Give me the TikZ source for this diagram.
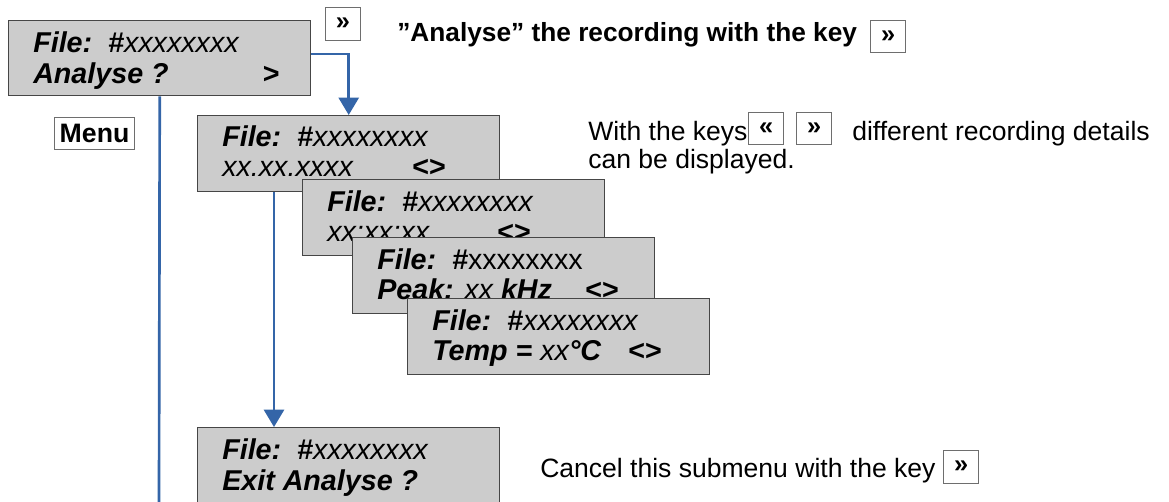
\documentclass[tikz,border=0pt]{standalone}
\usepackage{fontspec}
\setmainfont{Liberation Sans}
\usetikzlibrary{arrows.meta,calc}
\definecolor{lcdgray}{RGB}{204,204,204}
\definecolor{lcdedge}{RGB}{70,70,70}
\definecolor{flow}{RGB}{52,101,168}
\definecolor{keyedge}{RGB}{110,110,110}
\newcommand\lcdfont{\fontsize{21.5}{26}\selectfont}
\newcommand\lcdbi{\bfseries\itshape}

\begin{document}
\begin{tikzpicture}[x=0.75pt,y=-0.75pt,
  lcd/.style={draw=lcdedge,line width=1.1pt,fill=lcdgray,anchor=north west,
    minimum width=226.5pt,minimum height=57pt,inner sep=0pt},
  txt/.style={anchor=base west,inner sep=0pt,font=\lcdfont},
  keybox/.style={draw=keyedge,line width=0.8pt,fill=white,inner sep=0pt,anchor=north west,
    font=\fontsize{19}{19}\selectfont\bfseries},
  note/.style={anchor=base west,inner sep=0pt,font=\fontsize{19.9}{22}\selectfont},
  flowline/.style={draw=flow,line width=2pt},
  flowarrow/.style={flowline,-{Triangle[width=15pt,length=13pt]}}
]
\useasboundingbox (0,0) rectangle (1169,502);

% main menu entry
\node[lcd,minimum height=56.25pt] (a) at (8,20) {};
\node[txt] (a1) at ($(a.north west)+(25,33)$) {\lcdbi File:\ \ \#\mdseries xxxxxxxx};
\node[txt] (a2) at ($(a.north west)+(25,64)$) {\lcdbi Analyse ?};
\node[txt] (a3) at ($(a.north west)+(254,64)$) {\lcdbi >};

% keys
\node[keybox,minimum width=26.25pt,minimum height=24.75pt] (kstart) at (325,7) {»};
\node[keybox,minimum width=60pt,minimum height=24pt,
  font=\fontsize{20}{20}\selectfont\bfseries] (menu) at (54,117) {Menu};

% flow connectors
\coordinate (down) at (159,505);
\draw[flowline] (a.south) -- (down);

% analysis screens
\node[lcd] (b) at (197,115) {};
\node[txt] (b1) at ($(b.north west)+(25,32)$) {\lcdbi File:\ \ \#\mdseries xxxxxxxx};
\node[txt] (b2) at ($(b.north west)+(25,62)$) {\itshape xx.xx.xxxx};
\node[txt] (b3) at ($(b.north west)+(215,62)$) {\bfseries <>};

\coordinate (exittop) at (274,427);
\draw[flowarrow] ($(a.north east)+(0,34)$) -| (b.north);
\draw[flowarrow] (b.south -| exittop) -- (exittop);

\node[lcd] (c) at (302,179) {};
\node[txt] (c1) at ($(c.north west)+(25,32)$) {\lcdbi File:\ \ \#\mdseries xxxxxxxx};
\node[txt] (c2) at ($(c.north west)+(25,62)$) {\itshape xx:xx:xx};
\node[txt] (c3) at ($(c.north west)+(195,62)$) {\bfseries <>};

\node[lcd] (d) at (352,237) {};
\node[txt] (d1) at ($(d.north west)+(25,32)$) {\lcdbi File:\ \ \#\mdseries\upshape xxxxxxxx};
\node[txt] (d2) at ($(d.north west)+(25,62)$) {{\lcdbi Peak:} {\itshape xx} {\lcdbi kHz}};
\node[txt] (d3) at ($(d.north west)+(233,62)$) {\bfseries <>};

\node[lcd] (e) at (407,298) {};
\node[txt] (e1) at ($(e.north west)+(25,32)$) {\lcdbi File:\ \ \#\mdseries xxxxxxxx};
\node[txt] (e2) at ($(e.north west)+(25,62)$) {{\lcdbi Temp =} {\itshape xx}{\lcdbi °C}};
\node[txt] (e3) at ($(e.north west)+(221,62)$) {\bfseries <>};

\node[lcd,minimum height=67.5pt] (f) at (197,427) {};
\node[txt] (f1) at ($(f.north west)+(25,32)$) {\lcdbi File:\ \ \#\mdseries xxxxxxxx};
\node[txt] (f2) at ($(f.north west)+(25,63)$) {\lcdbi Exit Analyse ?};

% explanations
\node[note,font=\fontsize{19.7}{22}\selectfont\bfseries] (t1) at (397,42)
  {”Analyse” the recording with the key};
\node[keybox,minimum width=26.25pt,minimum height=24pt] (k1) at (870,20) {»};

\node[note] (t2) at (588,141) {With the keys};
\node[keybox,minimum width=26.25pt,minimum height=24pt] (k2) at (748,112) {«};
\node[keybox,minimum width=26.25pt,minimum height=24pt] (k3) at (796,112) {»};
\node[note] (t3) at (852,141) {different recording details};
\node[note] (t4) at (588,169) {can be displayed.};

\node[note] (t5) at (540,477) {Cancel this submenu with the key};
\node[keybox,minimum width=26.25pt,minimum height=24.75pt] (k4) at (943,450) {»};
\end{tikzpicture}
\end{document}
